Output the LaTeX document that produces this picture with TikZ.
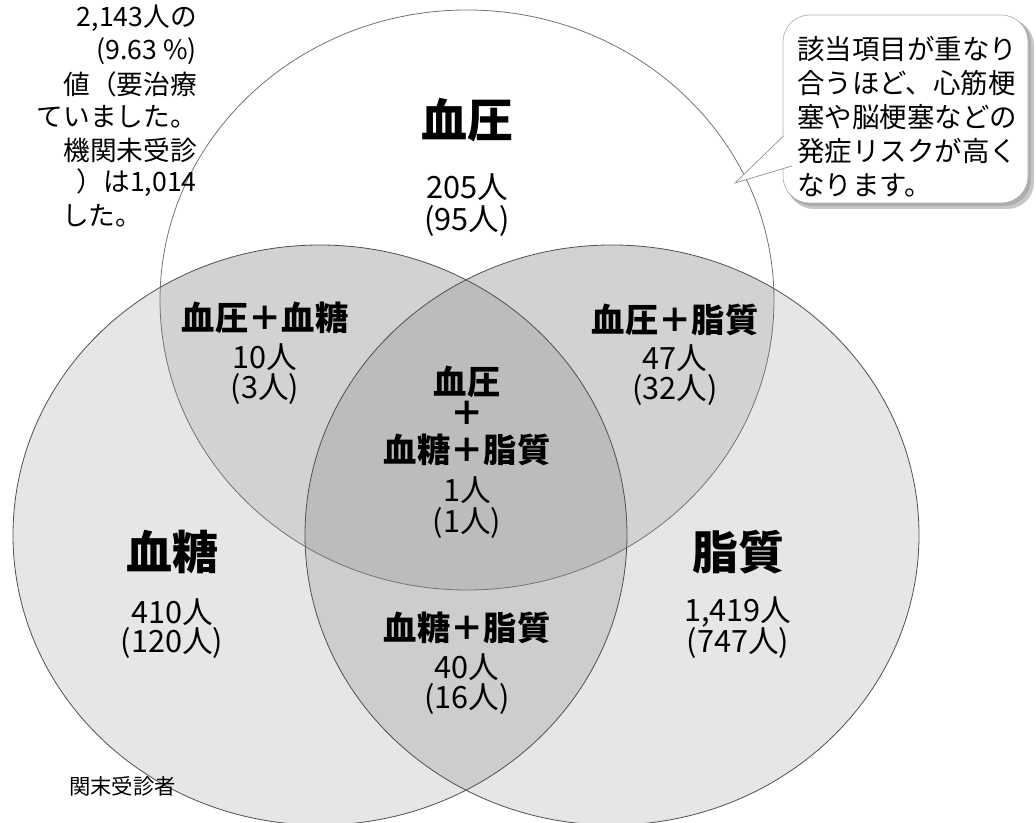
\documentclass[tikz,border=0pt]{standalone}
\usepackage{fontspec}
\setmainfont{Noto Sans CJK JP}
\definecolor{gone}{HTML}{E6E6E6}
\definecolor{gtwo}{HTML}{D2D2D2}
\definecolor{glr}{HTML}{CDCDCD}
\definecolor{gthree}{HTML}{BCBCBC}
\definecolor{edge}{HTML}{505050}
\begin{document}
\begin{tikzpicture}[x=0.75pt,y=-0.75pt,
  big/.style={font=\fontsize{34.5}{36}\selectfont\bfseries},
  pair/.style={font=\fontsize{25}{27}\selectfont\bfseries, inner sep=0pt},
  num/.style={font=\fontsize{23}{25}\selectfont, inner sep=0pt},
  txt/.style={font=\fontsize{20}{25.5}\selectfont, inner sep=0pt},
  note/.style={font=\fontsize{20.6}{25.5}\selectfont, inner sep=0pt},
  circ/.style={draw=edge, line width=0.6pt},
  ell/.style={x radius=307, y radius=290}]
\useasboundingbox (0,0) rectangle (1036,823);
\clip (0,0) rectangle (1036,823);
\coordinate (T) at (467,300);
\coordinate (L) at (320,535);
\coordinate (R) at (612,535);
% regions
\fill[gone] (L) ellipse[ell];
\fill[gone] (R) ellipse[ell];
\begin{scope}\clip (L) ellipse[ell]; \fill[gtwo] (T) ellipse[ell];\end{scope}
\begin{scope}\clip (R) ellipse[ell]; \fill[gtwo] (T) ellipse[ell];\end{scope}
\begin{scope}\clip (L) ellipse[ell]; \fill[glr] (R) ellipse[ell];\end{scope}
\begin{scope}\clip (L) ellipse[ell]; \clip (R) ellipse[ell]; \fill[gthree] (T) ellipse[ell];\end{scope}
\draw[circ, draw=black!55] (T) ellipse[ell];
\draw[circ] (L) ellipse[ell];
\draw[circ] (R) ellipse[ell];
% callout
\fill[black!22, rounded corners=20] (787,19) rectangle (1034,209);
\fill[black!32, rounded corners=20] (785,17) rectangle (1031,206);
\path[fill=white, draw=black!30, line width=0.5pt, rounded corners=20] (783,15) rectangle (1028,203);
\coordinate (tip) at (735,183);
\fill[white] (784,136) -- (tip) -- (792,166) -- cycle;
\draw[black!45, line width=0.5pt] (783.5,136) -- (tip) -- (792,166);
\node[note, align=left, anchor=north west] (note) at (797,36) {該当項目が重なり\\合うほど、心筋梗\\塞や脳梗塞などの\\発症リスクが高く\\なります。};
% top-left text
\node[txt, anchor=east] (t1) at (197,18) {2,143人の};
\node[txt, anchor=east] (t2) at (197,51) {(9.63 \%)};
\node[txt, anchor=east] (t3) at (197,84) {値（要治療};
\node[txt, anchor=east] (t4) at (197,117) {ていました。};
\node[txt, anchor=east] (t5) at (197,150) {機関未受診};
\node[txt, anchor=east] (t6) at (197,183) {）は1,014};
\node[txt, anchor=west] (t7) at (62,216) {した。};
\node[font=\fontsize{16}{18}\selectfont, inner sep=0pt, anchor=east] (t8) at (176,786) {関末受診者};
% labels
\node[big] (bp) at (467,120) {血圧};
\node[num] (bpn) at (467,187) {205人};
\node[num] (bpm) at (467,221) {(95人)};
\node[pair] (bs) at (265,318) {血圧＋血糖};
\node[num] (bsn) at (265,357) {10人};
\node[num] (bsm) at (265,389) {(3人)};
\node[pair] (bl) at (675,320) {血圧＋脂質};
\node[num] (bln) at (675,358) {47人};
\node[num] (blm) at (675,390) {(32人)};
\node[pair] (c1) at (467,382) {血圧};
\node[pair] (c2) at (467,413) {＋};
\node[pair] (c3) at (467,450) {血糖＋脂質};
\node[num] (cn) at (467,490) {1人};
\node[num] (cm) at (467,523) {(1人)};
\node[big] (sg) at (172,552) {血糖};
\node[num] (sgn) at (172,612) {410人};
\node[num] (sgm) at (172,643) {(120人)};
\node[big] (lp) at (738,552) {脂質};
\node[num] (lpn) at (738,612) {1,419人};
\node[num] (lpm) at (738,643) {(747人)};
\node[pair] (sl) at (467,628) {血糖＋脂質};
\node[num] (sln) at (467,667) {40人};
\node[num] (slm) at (467,699) {(16人)};
\end{tikzpicture}
\end{document}
